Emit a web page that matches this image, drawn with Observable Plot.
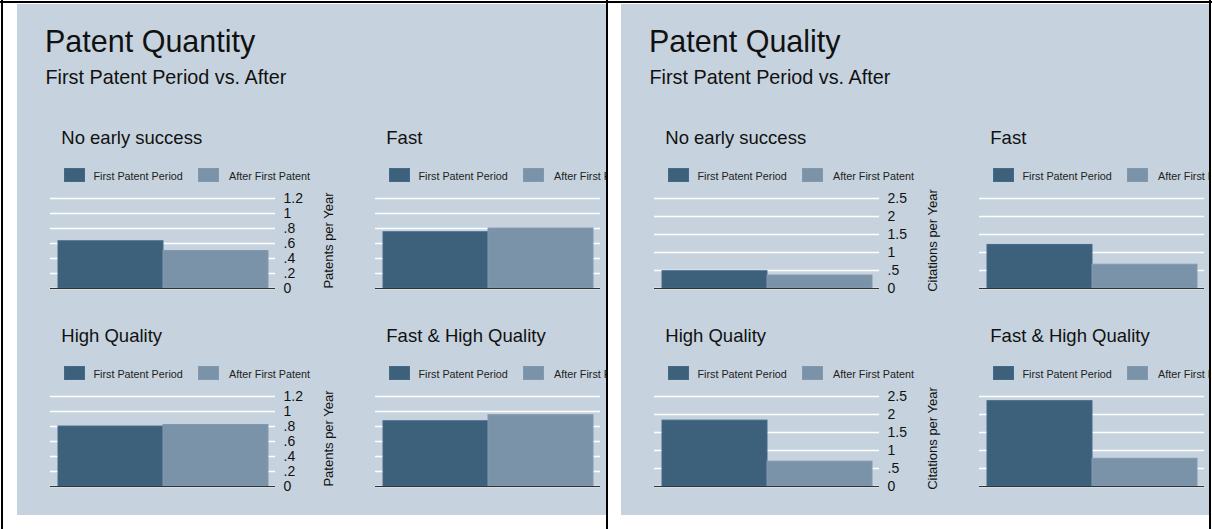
<!DOCTYPE html>
<html><head><meta charset="utf-8">
<script src="https://cdn.jsdelivr.net/npm/d3@7"></script>
<script src="https://cdn.jsdelivr.net/npm/@observablehq/plot@0.6"></script>
<style>
html,body{margin:0;padding:0;background:#fff;}
#root{position:relative;width:1212px;height:529px;overflow:hidden;background:#fff;font-family:"Liberation Sans",Arial,Helvetica,sans-serif;}
.panel{position:absolute;top:4px;height:511px;background:#c6d3de;overflow:hidden;}
.line{position:absolute;background:#000;}
.t{position:absolute;white-space:nowrap;line-height:1;color:#111;}
.sw{position:absolute;width:21px;height:14px;box-sizing:border-box;border:1px solid;}
</style></head><body><div id="root"></div>
<script>
// ---- data ----
const panelTitles = ["Patent Quantity", "Patent Quality"];
const panelSubtitle = "First Patent Period vs. After";
const groups = ["No early success", "Fast", "High Quality", "Fast & High Quality"];
const periods = ["First Patent Period", "After First Patent"];
const quantityValues = [[0.63, 0.50], [0.75, 0.80], [0.80, 0.82], [0.87, 0.95]];
const qualityValues = [[0.48, 0.36], [1.21, 0.66], [1.83, 0.69], [2.37, 0.77]];
const quantityTicks = [0, 0.2, 0.4, 0.6, 0.8, 1, 1.2];
const qualityTicks = [0, 0.5, 1, 1.5, 2, 2.5];
const axisLabels = ["Patents per Year", "Citations per Year"];

// ---- style ----
const barColors = ["#3d617b", "#7b93a9"];
const barStrokes = ["#46698a", "#8298ad"];
const fmt = d => d === 0 ? "0" : String(+d.toFixed(2)).replace(/^0\./, ".");

const root = document.getElementById("root");
function el(cls, css, text, parent) {
  const e = document.createElement("div");
  e.className = cls;
  Object.assign(e.style, css);
  if (text != null) e.textContent = text;
  (parent || root).appendChild(e);
  return e;
}

function chart(values, ticks, label) {
  const data = periods.map((p, i) => ({period: p, value: values[i]}));
  const svg = Plot.plot({
    width: 295, height: 110,
    marginLeft: 0, marginRight: 70, marginTop: 10, marginBottom: 10,
    style: {background: "transparent", fontFamily: "'Liberation Sans', Arial, sans-serif", color: "#111", overflow: "visible"},
    x: {type: "band", domain: periods, paddingInner: 0, paddingOuter: 0.066, axis: null},
    y: {domain: [0, ticks[ticks.length - 1]]},
    color: {domain: periods, range: barColors},
    marks: [
      Plot.gridY(ticks, {stroke: "white", strokeOpacity: 1, strokeWidth: 1.7}),
      Plot.barY(data, {x: "period", y: "value", fill: "period", stroke: d => barStrokes[periods.indexOf(d.period)], strokeWidth: 1}),
      Plot.ruleY([0], {stroke: "#333", strokeWidth: 1.2}),
      Plot.axisY(ticks, {anchor: "right", tickSize: 0, tickPadding: 8, tickFormat: fmt, fontSize: 14, label: null}),
      Plot.text([label], {text: d => d, frameAnchor: "right", textAnchor: "middle", rotate: -90, dx: 53, dy: -3, fontSize: 13, fill: "#111"})
    ]
  });
  return svg;
}

const panelLefts = [17, 621];
const panelWidths = [590, 588];
const allValues = [quantityValues, qualityValues];
const allTicks = [quantityTicks, qualityTicks];

panelTitles.forEach((title, pi) => {
  const panel = el("panel", {left: panelLefts[pi] + "px", width: panelWidths[pi] + "px"});
  el("t", {left: "28px", top: "22.2px", fontSize: "30.5px"}, title, panel);
  el("t", {left: "28.5px", top: "63.7px", fontSize: "19.8px"}, panelSubtitle, panel);
  groups.forEach((g, gi) => {
    const col = gi % 2, row = Math.floor(gi / 2);
    const ox = col * 325, oy = row * 198;
    el("t", {left: (44.3 + ox) + "px", top: (125.3 + oy) + "px", fontSize: "18.5px"}, g, panel);
    // legend
    const swx = [47, 181], tx = [76.4, 212];
    periods.forEach((p, k) => {
      el("sw", {left: (swx[k] + ox) + "px", top: (164 + oy) + "px", background: barColors[k], borderColor: barStrokes[k]}, null, panel);
      el("t", {left: (tx[k] + ox) + "px", top: (166.9 + oy) + "px", fontSize: "10.8px", color: "#222"}, p, panel);
    });
    const svg = chart(allValues[pi][gi], allTicks[pi], axisLabels[pi]);
    svg.style.position = "absolute";
    svg.style.left = (33 + ox) + "px";
    svg.style.top = (184 + oy) + "px";
    svg.style.maxWidth = "none";
    panel.appendChild(svg);
  });
});

// frame lines
el("line", {left: "0px", top: "1px", width: "1212px", height: "2px"});
el("line", {left: "1px", top: "0px", width: "2px", height: "529px"});
el("line", {left: "606px", top: "0px", width: "2px", height: "529px"});
el("line", {left: "1209px", top: "0px", width: "2px", height: "529px"});
</script>
</body></html>
